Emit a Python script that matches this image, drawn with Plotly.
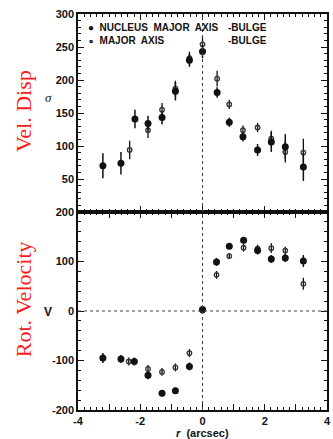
import plotly.graph_objects as go
from plotly.subplots import make_subplots

# ---- velocity dispersion (sigma, km/s) ----
r_sig_nuc = [-3.20, -2.62, -2.17, -1.75, -1.30, -0.87, -0.42, 0.00, 0.47, 0.86, 1.30, 1.77, 2.21, 2.66, 3.24]
sig_nuc = [70, 74, 141, 134, 143, 183, 230, 243, 181, 136, 114, 94, 106, 99, 68]
sig_nuc_err = [19, 17, 14, 12, 10, 14, 10, 10, 8, 7, 7, 9, 15, 19, 21]

r_sig_maj = [-2.34, -1.75, -1.30, -0.87, -0.42, 0.00, 0.47, 0.86, 1.30, 1.77, 2.21, 2.66, 3.24]
sig_maj = [94, 124, 155, 187, 233, 254, 202, 163, 124, 128, 111, 91, 90]
sig_maj_err = [14, 12, 10, 12, 10, 12, 12, 7, 7, 7, 12, 16, 21]

# ---- rotation velocity (V, km/s) ----
r_v_nuc = [-3.20, -2.62, -2.19, -1.75, -1.30, -0.87, -0.42, 0.00, 0.45, 0.86, 1.32, 1.77, 2.21, 2.66, 3.24]
v_nuc = [-95, -97, -102, -130, -166, -161, -112, 3, 99, 131, 143, 122, 105, 107, 101]
v_nuc_err = [10, 8, 8, 8, 6, 6, 8, 6, 8, 6, 6, 8, 8, 8, 12]

r_v_maj = [-2.37, -1.75, -1.30, -0.87, -0.42, 0.00, 0.45, 0.86, 1.32, 1.77, 2.21, 2.66, 3.24]
v_maj = [-102, -117, -123, -114, -85, 1, 73, 111, 128, 126, 127, 122, 55]
v_maj_err = [8, 8, 8, 8, 8, 6, 8, 6, 8, 8, 10, 8, 12]

x_ticks = [-4, -3, -2, -1, 0, 1, 2, 3, 4]
x_ticktext = ["-4", "", "-2", "", "0", "", "2", "", "4"]
sig_ticks = [0, 50, 100, 150, 200, 250, 300]
sig_ticktext = ["", "50", "100", "150", "200", "250", "300"]
v_ticks = [-200, -100, 0, 100, 200]
v_ticktext = ["-200", "-100", "0", "100", "200"]

INK = "#111111"
TICKFONT = dict(family="Liberation Sans", size=11, color=INK, weight=700)

fig = make_subplots(rows=2, cols=1, shared_xaxes=True, vertical_spacing=0)


def err(values, width=1.5):
    return dict(type="data", array=values, width=0, thickness=width, color=INK)


fig.add_trace(go.Scatter(x=r_sig_maj, y=sig_maj, mode="markers", error_y=err(sig_maj_err, 1.3),
                         marker=dict(symbol="circle-open", size=4.5, color="#333333", line=dict(width=1.3))),
              row=1, col=1)
fig.add_trace(go.Scatter(x=r_sig_nuc, y=sig_nuc, mode="markers", error_y=err(sig_nuc_err),
                         marker=dict(symbol="circle", size=7, color=INK)),
              row=1, col=1)
fig.add_trace(go.Scatter(x=r_v_maj, y=v_maj, mode="markers", error_y=err(v_maj_err, 1.3),
                         marker=dict(symbol="circle-open", size=4.5, color="#333333", line=dict(width=1.3))),
              row=2, col=1)
fig.add_trace(go.Scatter(x=r_v_nuc, y=v_nuc, mode="markers", error_y=err(v_nuc_err),
                         marker=dict(symbol="circle", size=7, color=INK)),
              row=2, col=1)

axis_common = dict(showline=True, linecolor=INK, linewidth=1.5, mirror="ticks",
                   ticks="inside", tickcolor=INK, tickwidth=1.2, showgrid=False,
                   zeroline=False, tickfont=TICKFONT)

fig.update_xaxes(range=[-4, 4], tickmode="array", tickvals=x_ticks, ticktext=x_ticktext,
                 ticklen=6, minor=dict(ticks="inside", dtick=0.2, ticklen=3, tickcolor=INK, tickwidth=1),
                 **axis_common)
fig.update_xaxes(showticklabels=False, row=1, col=1)
fig.update_yaxes(range=[0, 300], tickmode="array", tickvals=sig_ticks, ticktext=sig_ticktext,
                 ticklen=6, minor=dict(ticks="inside", dtick=10, ticklen=3, tickcolor=INK, tickwidth=1),
                 row=1, col=1, **axis_common)
fig.update_yaxes(range=[-200, 200], tickmode="array", tickvals=v_ticks, ticktext=v_ticktext,
                 ticklen=6, minor=dict(ticks="inside", dtick=20, ticklen=3, tickcolor=INK, tickwidth=1),
                 row=2, col=1, **axis_common)

# dotted reference lines at r = 0 and V = 0
dot = dict(color="#444444", width=1, dash="dot")
fig.add_shape(type="line", xref="x", yref="y domain", x0=0, x1=0, y0=0, y1=1, line=dot)
fig.add_shape(type="line", xref="x2", yref="y2 domain", x0=0, x1=0, y0=0, y1=1, line=dot)
fig.add_shape(type="line", xref="x2 domain", yref="y2", x0=0, x1=1, y0=0, y1=0, line=dot)

LEG = dict(family="Liberation Sans", size=10, color=INK, weight=700)
ann = [
    dict(x=0.033, y=0.965, text="●  NUCLEUS  MAJOR  AXIS", xanchor="left", font=LEG),
    dict(x=0.033, y=0.932, text="∘  MAJOR  AXIS", xanchor="left", font=LEG),
    dict(x=0.595, y=0.965, text="-BULGE", xanchor="left", font=LEG),
    dict(x=0.595, y=0.932, text="-BULGE", xanchor="left", font=LEG),
    dict(x=-0.118, y=0.79, text="<i>σ</i>", xanchor="center",
         font=dict(family="Liberation Serif", size=13, color=INK)),
    dict(x=-0.122, y=0.247, text="V", xanchor="center", font=dict(family="Liberation Sans", size=12, color=INK, weight=700)),
    dict(x=0.5, y=-0.058, text="<i>r</i>  (arcsec)", xanchor="center",
         font=dict(family="Liberation Sans", size=11, color=INK, weight=700)),
    dict(x=-0.2205, y=0.755, text="Vel. Disp", textangle=-90, xanchor="center",
         font=dict(family="Liberation Serif", size=22, color="#ff1a1a")),
    dict(x=-0.2205, y=0.28, text="Rot. Velocity", textangle=-90, xanchor="center",
         font=dict(family="Liberation Serif", size=22, color="#ff1a1a")),
]
for a in ann:
    fig.add_annotation(xref="paper", yref="paper", showarrow=False, yanchor="middle", **a)

fig.update_layout(width=333, height=439, margin=dict(l=78, r=2, t=14, b=29),
                  paper_bgcolor="white", plot_bgcolor="white", showlegend=False)

fig.write_html("out.html")
